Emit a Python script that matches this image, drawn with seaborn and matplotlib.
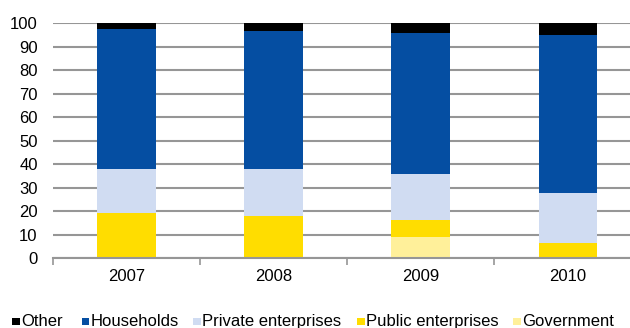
import numpy as np
import pandas as pd
import matplotlib
matplotlib.use("Agg")
import matplotlib.pyplot as plt
import seaborn as sns
from matplotlib.patches import Rectangle

years = ["2007", "2008", "2009", "2010"]
government = [0.0, 0.0, 9.1, 0.0]
public_enterprises = [19.1, 18.0, 7.2, 6.6]
private_enterprises = [18.8, 20.0, 19.4, 21.1]
households = [59.5, 58.7, 60.0, 67.3]
other = [2.6, 3.3, 4.3, 5.0]

series = [
    ("Government", government, "#FFF09A"),
    ("Public enterprises", public_enterprises, "#FFDD00"),
    ("Private enterprises", private_enterprises, "#D0DCF2"),
    ("Households", households, "#054EA2"),
    ("Other", other, "#000000"),
]

sns.set_theme(style="white")
plt.rcParams["font.family"] = ["Liberation Sans", "DejaVu Sans"]

W, H = 630, 328
fig = plt.figure(figsize=(W / 100, H / 100), dpi=100)
ax = fig.add_axes([53 / W, 1 - 258.3 / H, 1 - 53 / W, 235 / H])

# cumulative tops, drawn from the tallest down so lower segments sit in front
df = pd.DataFrame({"year": years})
running = np.zeros(len(years))
tops = []
for name, vals, color in series:
    running = running + np.array(vals)
    tops.append((name, running.copy(), color))

for name, top, color in reversed(tops):
    sns.barplot(x=df["year"], y=top, color=color, width=0.40, ax=ax,
                saturation=1, linewidth=0, zorder=3)

ax.set_ylim(0, 100)
ax.set_xlim(-0.5, 3.5 - 11.5 / 147)
ax.set_yticks(range(0, 101, 10))
ax.yaxis.grid(True, color="#969696", linewidth=1.5, zorder=0)
ax.xaxis.grid(False)
ax.set_axisbelow(True)
for s in ["top", "right", "left"]:
    ax.spines[s].set_visible(False)
ax.spines["bottom"].set_color("#969696")
ax.spines["bottom"].set_linewidth(1.5)
ax.spines["bottom"].set_zorder(4)

ax.set_xlabel("")
ax.set_ylabel("")
ax.tick_params(axis="y", length=0, labelsize=12, colors="#000000", pad=11)
ax.tick_params(axis="x", which="major", length=0, labelsize=12,
               colors="#000000", pad=8)
ax.set_xticks(np.arange(-0.5, 3.5, 1.0), minor=True)
ax.tick_params(axis="x", which="minor", length=5, width=1.2, color="#969696",
               direction="out", bottom=True)

# legend row along the bottom edge: small square swatch followed by its label
legend_x = [12, 82, 193, 357, 513]
swatch = 7.5
row_y = 321.5
for (name, _, color), x0 in zip(reversed(series), legend_x):
    fig.add_artist(Rectangle((x0 / W, 1 - (row_y + swatch / 2) / H),
                             swatch / W, swatch / H, transform=fig.transFigure,
                             facecolor=color, edgecolor="none"))
    fig.text((x0 + swatch + 1.5) / W, 1 - row_y / H, name, fontsize=12,
             color="#000000", ha="left", va="center")

fig.savefig("out.png", dpi=100, facecolor="white")
